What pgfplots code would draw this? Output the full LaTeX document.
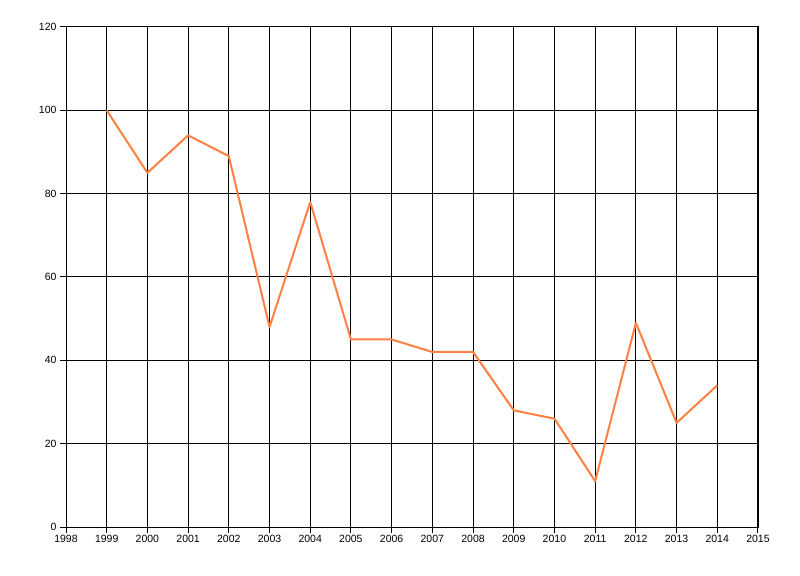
\documentclass[border=0pt]{standalone}
\usepackage{pgfplots}
\pgfplotsset{compat=1.18}
\usepackage{fontspec}
\setmainfont{Liberation Sans}
\definecolor{lineorange}{RGB}{255,128,64}
\begin{document}
\begin{tikzpicture}
\useasboundingbox (-66bp,-49bp) rectangle (734bp,527bp);
\begin{axis}[
  at={(0,0)}, anchor=south west,
  scale only axis, width=692bp, height=500bp,
  xmin=1998, xmax=2015, ymin=0, ymax=120,
  xtick={1998,1999,...,2015},
  ytick={0,20,...,120},
  grid=major,
  major grid style={black, line width=1bp},
  axis line style={black, line width=1bp},
  tick pos=left,
  tick align=outside,
  major tick length=6bp,
  tick style={black, line width=1bp},
  /pgf/number format/1000 sep={},
  /pgf/number format/assume math mode=true,
  ticklabel style={font=\fontsize{10.5bp}{12bp}\selectfont},
  xticklabel style={yshift=1bp},
]
\addplot[sharp plot, lineorange, line width=2bp, line join=round] coordinates {
(1999,100) (2000,85) (2001,94) (2002,89) (2003,48) (2004,78) (2005,45) (2006,45)
(2007,42) (2008,42) (2009,28) (2010,26) (2011,11) (2012,49) (2013,25) (2014,34)
};
\end{axis}
\end{tikzpicture}
\end{document}
